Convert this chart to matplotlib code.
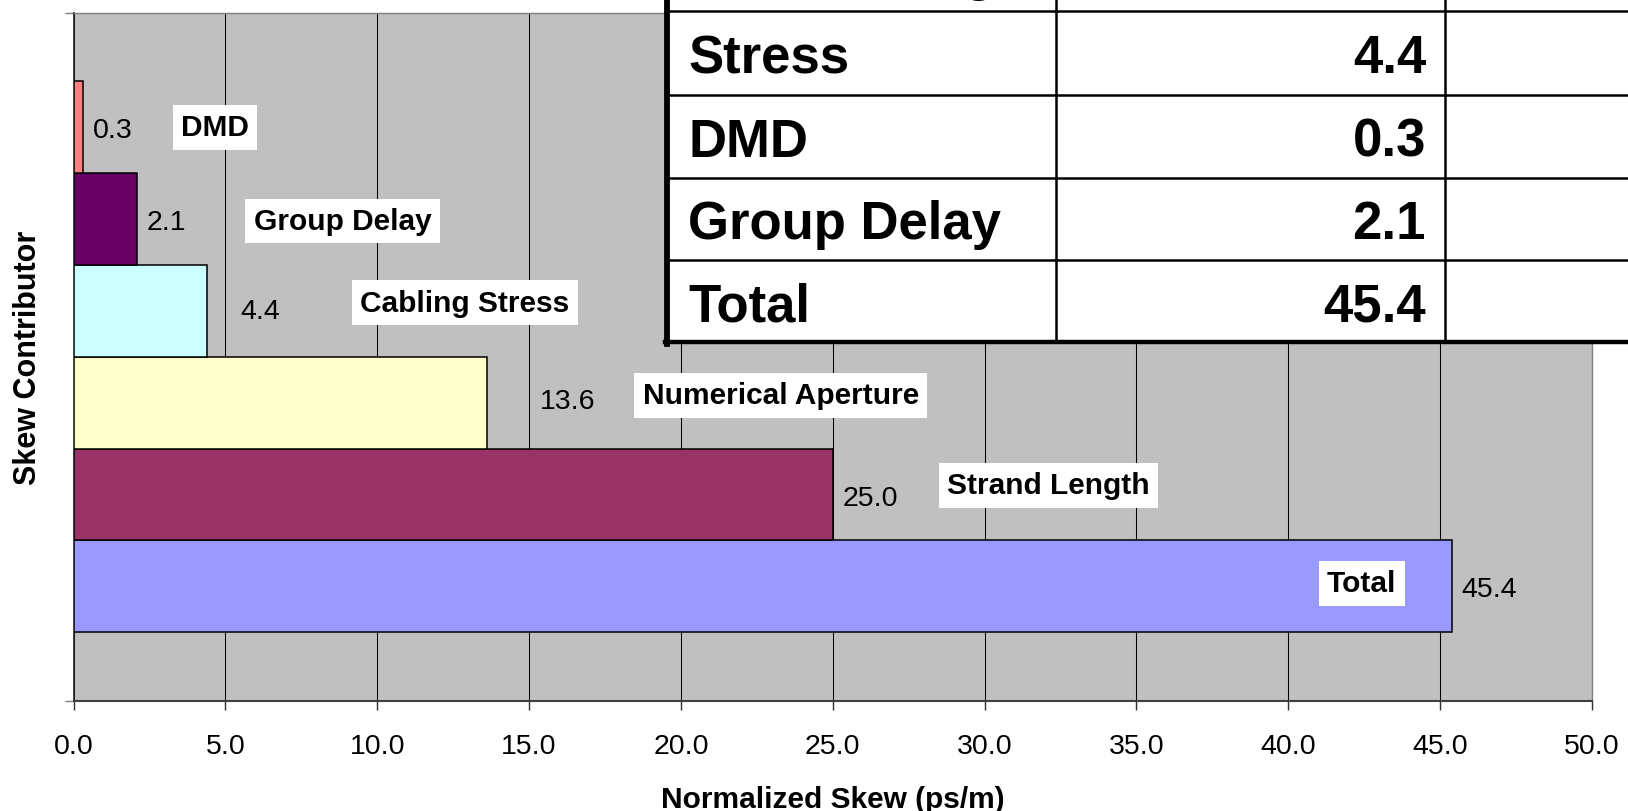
import matplotlib
matplotlib.use('Agg')
import matplotlib.pyplot as plt
from matplotlib.patches import Rectangle
from matplotlib.lines import Line2D

plt.rcParams['font.family'] = ['Liberation Sans', 'DejaVu Sans']

# ---------------- data ----------------
categories = ["Total", "Strand Length", "Numerical Aperture",
              "Cabling Stress", "Group Delay", "DMD"]
values = [45.4, 25.0, 13.6, 4.4, 2.1, 0.3]
value_labels = ["45.4", "25.0", "13.6", "4.4", "2.1", "0.3"]
bar_colors = ["#9999FF", "#993366", "#FFFFCC", "#CCFFFF", "#660066", "#FF8080"]

xticks = [0, 5, 10, 15, 20, 25, 30, 35, 40, 45, 50]
xtick_labels = ["0.0", "5.0", "10.0", "15.0", "20.0", "25.0",
                "30.0", "35.0", "40.0", "45.0", "50.0"]

x_title = "Normalized Skew (ps/m)"
y_title = "Skew Contributor"

# table (its top row is mostly cut off by the figure edge in the original)
table_rows = ["Strand Length", "Stress", "DMD", "Group Delay", "Total"]
table_values = ["", "4.4", "0.3", "2.1", "45.4"]

# ---------------- annotation positions (data coords) ----------------
value_label_x = [45.69, 25.34, 15.36, 5.51, 2.40, 0.65]
value_label_y = [-0.025, 0.965, 2.015, 2.995, 3.965, 4.965]
name_label_x = [42.42, 32.11, 23.29, 12.89, 8.86, 4.66]
name_label_y = [0.03, 1.10, 2.08, 3.09, 3.98, 5.0]

# ---------------- figure ----------------
W, H = 1628, 812
fig = plt.figure(figsize=(W / 100, H / 100), dpi=100)
fig.patch.set_facecolor('white')

ax_l, ax_r, ax_t, ax_b = 73.5, 1592.0, 13.5, 702.0
ax = fig.add_axes([ax_l / W, 1 - ax_b / H, (ax_r - ax_l) / W, (ax_b - ax_t) / H])
ax.set_facecolor('#C0C0C0')

ypos = list(range(len(categories)))
ax.barh(ypos, values, height=1.0, color=bar_colors, edgecolor='black',
        linewidth=1.1, zorder=3)

ax.set_xlim(0, 50)
ax.set_ylim(-1.25, 6.25)
ax.set_xticks(xticks)
ax.set_xticklabels(xtick_labels, fontsize=20.5)
ax.set_yticks([-1.25, 6.25])
ax.set_yticklabels(["", ""])
ax.tick_params(axis='x', direction='out', length=6.5, width=1.0,
               color='#303030', pad=16.5)
ax.tick_params(axis='y', direction='out', length=6.5, width=1.0,
               color='#808080')

ax.grid(axis='x', color='black', linewidth=0.75, zorder=1)
ax.set_axisbelow(True)

for side in ['top', 'right']:
    ax.spines[side].set_color('#808080')
    ax.spines[side].set_linewidth(1.0)
ax.spines['bottom'].set_color('#404040')
ax.spines['bottom'].set_linewidth(1.5)
ax.spines['left'].set_color('#202020')
ax.spines['left'].set_linewidth(1.2)

for x, y, s in zip(value_label_x, value_label_y, value_labels):
    ax.text(x, y, s, ha='left', va='center', fontsize=20.5, zorder=6)

for x, y, s in zip(name_label_x, name_label_y, categories):
    ax.text(x, y, s, ha='center', va='center', fontsize=21.5,
            fontweight='bold', zorder=6,
            bbox=dict(facecolor='white', edgecolor='none',
                      boxstyle='square,pad=0.28'))

fig.text(832.7 / W, 1 - 800 / H, x_title, ha='center', va='center',
         fontsize=21.5, fontweight='bold')
fig.text(28 / W, 1 - 358 / H, y_title, ha='center', va='center',
         rotation=90, fontsize=22, fontweight='bold')

# ---------------- overlaid table (pixel coords) ----------------
tx = fig.add_axes([0, 0, 1, 1], zorder=10)
tx.set_xlim(0, W)
tx.set_ylim(H, 0)
tx.axis('off')
tx.patch.set_alpha(0)

t_left, t_bottom = 666.8, 342.5
row_lines = [-71.0, 12.2, 95.5, 178.8, 260.8, t_bottom]
col_lines = [1055.5, 1445.4]

tx.add_patch(Rectangle((t_left, -120), 1800 - t_left, t_bottom + 120,
                       facecolor='white', edgecolor='none'))
for y in row_lines[1:-1]:
    tx.add_line(Line2D([t_left, W + 10], [y, y], color='black', lw=1.8))
for x in col_lines:
    tx.add_line(Line2D([x, x], [-120, t_bottom], color='black', lw=1.8))
tx.add_line(Line2D([t_left, t_left], [-120, t_bottom + 2], color='black', lw=4.2))
tx.add_line(Line2D([t_left - 2, W + 10], [t_bottom, t_bottom], color='black', lw=3.2))

for i, (name, val) in enumerate(zip(table_rows, table_values)):
    yc = (row_lines[i] + row_lines[i + 1]) / 2
    base = yc + 19.5
    tx.text(688.5, base, name, ha='left', va='baseline', fontsize=38,
            fontweight='bold')
    if val:
        tx.text(1426.0, base, val, ha='right', va='baseline', fontsize=38,
                fontweight='bold')

fig.savefig('out.png', dpi=100)
